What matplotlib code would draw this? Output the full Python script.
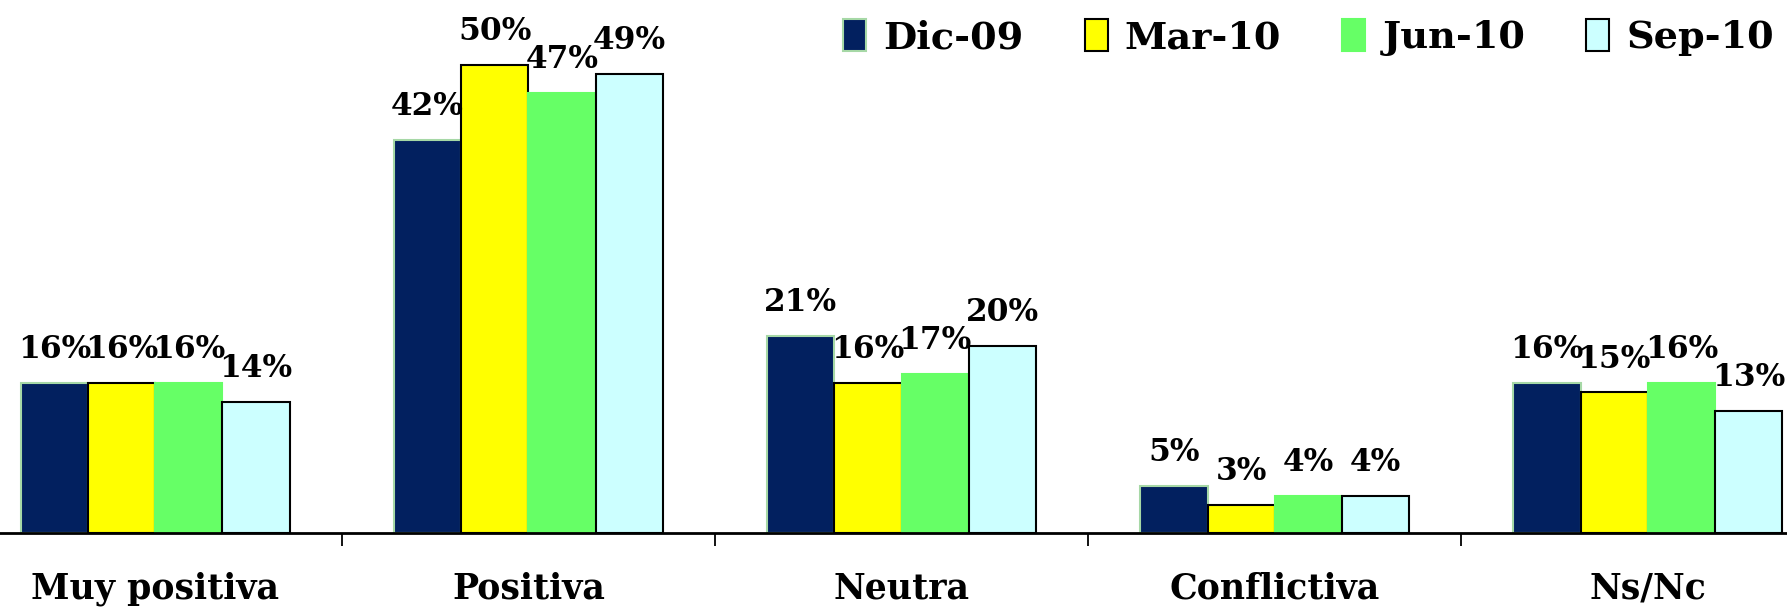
import matplotlib.pyplot as plt
import numpy as np

# -----------------------------
# Data
# -----------------------------
categories = ["Muy positiva", "Positiva", "Neutra", "Conflictiva", "Ns/Nc"]
series_names = ["Dic-09", "Mar-10", "Jun-10", "Sep-10"]
dic09 = [16, 42, 21, 5, 16]
mar10 = [16, 50, 16, 3, 15]
jun10 = [16, 47, 17, 4, 16]
sep10 = [14, 49, 20, 4, 13]

series = [dic09, mar10, jun10, sep10]
colors = ["#02205f", "#ffff00", "#66ff66", "#ccffff"]
edges = ["#a6d8a6", "#000000", "#66ff66", "#000000"]

plt.rcParams["font.family"] = ["DejaVu Serif"]
plt.rcParams["font.weight"] = "bold"

fig = plt.figure(figsize=(17.87, 6.11), dpi=100)
ax = fig.add_axes([-0.0175, 0.1277, 1.044, 0.8723])

x = np.arange(len(categories))
w = 0.18

# -----------------------------
# Bars + labels
# -----------------------------
for i, (vals, name) in enumerate(zip(series, series_names)):
    pos = x + (i - 1.5) * w
    ax.bar(pos, vals, width=w, color=colors[i], edgecolor=edges[i],
           linewidth=1.5, label=name, zorder=2)
    for px, v in zip(pos, vals):
        ax.annotate(f"{v}%", (px, v), xytext=(0, 24), textcoords="offset points",
                    ha="center", va="center", fontsize=22.5, fontweight="bold")

# -----------------------------
# Axes styling
# -----------------------------
ax.set_xlim(-0.5, 4.5)
ax.set_ylim(0, 56.9)
for s in ["top", "right", "left"]:
    ax.spines[s].set_visible(False)
ax.spines["bottom"].set_linewidth(2)
ax.set_yticks([])

ax.set_xticks(np.arange(-0.5, 5, 1))
ax.set_xticklabels([])
ax.tick_params(axis="x", which="major", direction="out", length=9, width=1.3)
ax.set_xticks(x, minor=True)
ax.set_xticklabels(categories, minor=True, fontsize=25, fontweight="bold")
ax.tick_params(axis="x", which="minor", length=0, pad=28)

fig.legend(loc="upper right", bbox_to_anchor=(1.012, 1.025), ncol=4, frameon=False,
           handlelength=0.6, handleheight=0.9, handletextpad=0.45,
           columnspacing=1.6, prop={"weight": "bold", "size": 27.5})

fig.savefig("out.png", dpi=100)
